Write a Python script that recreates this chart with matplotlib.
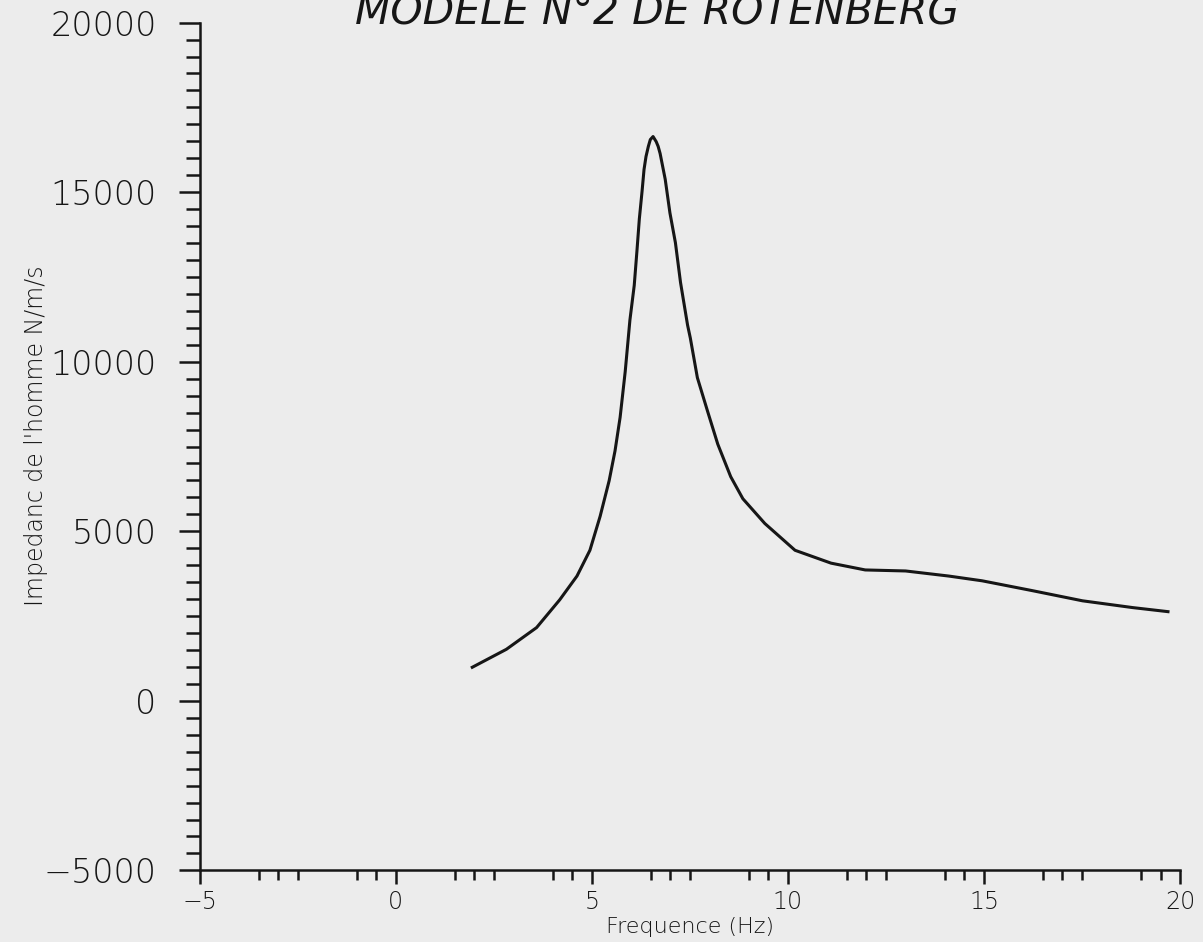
import numpy as np
import matplotlib
matplotlib.use("Agg")
import matplotlib.pyplot as plt

# --- data ---
freq = [1.95, 2.82, 3.59, 4.18, 4.62, 4.95, 5.21, 5.44, 5.59, 5.72,
        5.85, 5.97, 6.08, 6.15, 6.21, 6.28, 6.33, 6.38, 6.44, 6.49,
        6.56, 6.64, 6.69, 6.74, 6.87, 6.99, 7.13, 7.26, 7.44, 7.51,
        7.69, 7.95, 8.21, 8.54, 8.85, 9.41, 10.18, 11.10, 11.97, 13.0,
        14.1, 14.95, 16.23, 17.51, 18.79, 19.69]
impedance = [990, 1520, 2160, 2980, 3680, 4440, 5440, 6490, 7370, 8360,
             9710, 11230, 12250, 13280, 14210, 15030, 15670, 16050, 16350, 16550,
             16640, 16490, 16350, 16140, 15380, 14390, 13510, 12340, 11080, 10700,
             9530, 8540, 7570, 6610, 5960, 5230, 4440, 4060, 3860, 3830,
             3680, 3540, 3250, 2950, 2750, 2630]

x_major = [-5, 0, 5, 10, 15, 20]
y_major = [-5000, 0, 5000, 10000, 15000, 20000]

title = "MODELE N°2 DE ROTENBERG"
xlabel = "Frequence (Hz)"
ylabel = "Impedanc de l'homme N/m/s"

ink = "#161616"
paper = "#ececec"

fig = plt.figure(figsize=(12.03, 9.42), dpi=100, facecolor=paper)
ax = fig.add_axes([0.166, 0.076, 0.815, 0.900])
ax.set_facecolor(paper)

ax.plot(freq, impedance, color=ink, lw=2.2, solid_joinstyle="round")

ax.set_xlim(-5, 20)
ax.set_ylim(-5000, 20000)
ax.set_xticks(x_major)
ax.set_yticks(y_major)
ax.set_xticklabels([str(v).replace("-", "\u2212") for v in x_major])
ax.set_yticklabels([str(v).replace("-", "\u2212") for v in y_major])

# the plotter drew only some of the half-unit ticks on the x axis
xminor = [b + o for b in range(-5, 20, 5) for o in (1.5, 2.0, 2.5, 4.0, 4.5)]
ax.set_xticks(xminor, minor=True)
ax.set_yticks(np.arange(-5000, 20001, 500), minor=True)

for s in ("top", "right"):
    ax.spines[s].set_visible(False)
for s in ("left", "bottom"):
    ax.spines[s].set_linewidth(1.8)
    ax.spines[s].set_color(ink)

ax.tick_params(axis="y", which="major", direction="out", length=15, width=1.8,
               pad=16, labelsize=24, colors=ink)
ax.tick_params(axis="y", which="minor", direction="out", length=10, width=1.8, colors=ink)
ax.tick_params(axis="x", which="major", direction="out", length=10, width=1.8,
               pad=4, labelsize=17, colors=ink)
ax.tick_params(axis="x", which="minor", direction="out", length=7, width=1.8, colors=ink)
for lab in ax.get_xticklabels() + ax.get_yticklabels():
    lab.set_fontweight("light")

ax.set_xlabel(xlabel, fontsize=16, color=ink, labelpad=2, fontweight="light")
ax.set_ylabel(ylabel, fontsize=17, color=ink, fontweight="light")
ax.yaxis.set_label_coords(-0.155, 0.513)

fig.text(0.295, 0.975, title, fontsize=29.5, style="italic", color=ink,
         ha="left", va="baseline", fontweight="light")

fig.savefig("out.png", dpi=100, facecolor=paper)
